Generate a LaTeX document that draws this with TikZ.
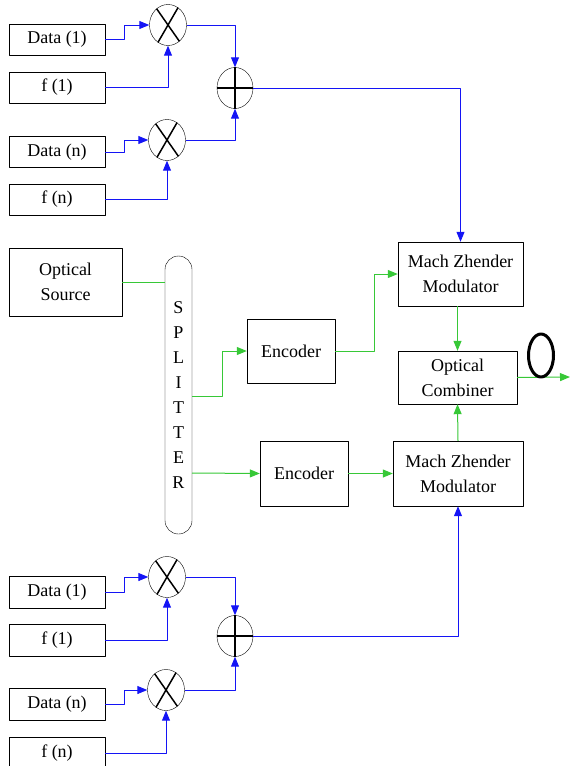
\documentclass[tikz,border=0pt]{standalone}
\usepackage{fontspec}
\setmainfont{Liberation Serif}
\usetikzlibrary{arrows.meta,shapes.geometric}
\definecolor{sigblue}{RGB}{20,20,245}
\definecolor{optgreen}{RGB}{55,200,55}
\tikzset{
	box/.style={draw, thin, inner sep=0pt, align=center},
	mixer/.style={draw, thin, ellipse, inner sep=0pt, minimum width=37pt, minimum height=41pt},
	bline/.style={sigblue, line width=1pt},
	gline/.style={optgreen, line width=1pt}
}
\begin{document}
\begin{tikzpicture}[x=1pt, y=-1pt, >={Triangle[length=10pt,width=8pt]}, line join=round, font=\fontsize{18}{25}\selectfont]
	\useasboundingbox (0,0) rectangle (570,766);
	
	% ==========================================
	% 1. Upper data branch
	% ==========================================
	\node[box, minimum width=96pt, minimum height=31pt] (ud1) at (57,39.5) {Data (1)};
	\node[box, minimum width=96pt, minimum height=31pt] (uf1) at (57,87.5) {f (1)};
	\node[box, minimum width=96pt, minimum height=31pt] (udn) at (57,152) {Data (n)};
	\node[box, minimum width=96pt, minimum height=31pt] (ufn) at (57,199.5) {f (n)};
	
	\node[mixer] (umul1) at (168,25) {};
	\node[mixer] (umuln) at (167,140) {};
	\node[mixer, minimum width=36pt] (uadd) at (235,88) {};
	
	% signs inside the circles
	\foreach \m in {umul1, umuln} {
		\draw[line width=1.5pt] (\m.60) -- (\m.240) (\m.125) -- (\m.305);
	}
	\draw[line width=1.5pt] (uadd.west) -- (uadd.east) (uadd.north) -- (uadd.south);
	
	\draw[bline, ->] (ud1.east) -- ++(19,0) |- (umul1.west);
	\draw[bline, ->] (uf1.east) -| (umul1.south);
	\draw[bline, ->] (udn.east) -- ++(19,0) |- (umuln.west);
	\draw[bline, ->] (ufn.east) -| (umuln.south);
	\draw[bline, ->] (umul1.east) -| (uadd.north);
	\draw[bline, ->] (umuln.east) -| (uadd.south);
	
	% ==========================================
	% 2. Optical part
	% ==========================================
	\node[box, minimum width=113pt, minimum height=68pt] (osrc) at (65.5,282) {Optical\\Source};
	\node[box, rounded corners=13.5pt, minimum width=27pt, minimum height=278pt] (split) at (178.5,395) {S\\P\\L\\I\\T\\T\\E\\R};
	\coordinate (s1) at (192,396);
	\coordinate (s2) at (192,473);
	
	\node[box, minimum width=88pt, minimum height=64pt] (enc1) at (291,351) {Encoder};
	\node[box, minimum width=88pt, minimum height=65pt] (enc2) at (304,473.5) {Encoder};
	\node[box, minimum width=125pt, minimum height=64pt] (mzm1) at (460.5,274) {Mach Zhender\\Modulator};
	\node[box, minimum width=130pt, minimum height=65pt] (mzm2) at (458,473.5) {Mach Zhender\\Modulator};
	\node[box, minimum width=119pt, minimum height=53pt] (comb) at (457.5,377.5) {Optical\\Combiner};
	\coordinate (out) at (570,377);
	
	\draw[gline] (osrc.east) -- (split.west |- osrc.east);
	\draw[gline, ->] (s1) -- ++(30,0) |- (enc1.west);
	\draw[gline, ->] (s2) -- (enc2.west);
	\draw[gline, ->] (enc1.east) -- ++(39,0) |- (mzm1.west);
	\draw[gline, ->] (enc2.east) -- (mzm2.west);
	\draw[gline, ->] (mzm1.south -| comb.north) -- (comb.north);
	\draw[gline, ->] (mzm2.north) -- (comb.south);
	\draw[gline, ->] (comb.east) -- (out);
	
	% fibre loop
	\draw[line width=3pt] (541,355.5) ellipse [x radius=12.5, y radius=21.5];
	
	% ==========================================
	% 3. Lower data branch
	% ==========================================
	\node[box, minimum width=96pt, minimum height=32pt] (ld1) at (57,592) {Data (1)};
	\node[box, minimum width=96pt, minimum height=32pt] (lf1) at (57,640.5) {f (1)};
	\node[box, minimum width=96pt, minimum height=32pt] (ldn) at (57,704.5) {Data (n)};
	\node[box, minimum width=96pt, minimum height=32pt] (lfn) at (57,753) {f (n)};
	
	\node[mixer] (lmul1) at (167,577) {};
	\node[mixer] (lmuln) at (166,690) {};
	\node[mixer, minimum width=36pt] (ladd) at (235,636) {};
	
	\foreach \m in {lmul1, lmuln} {
		\draw[line width=1.5pt] (\m.60) -- (\m.240) (\m.125) -- (\m.305);
	}
	\draw[line width=1.5pt] (ladd.west) -- (ladd.east) (ladd.north) -- (ladd.south);
	
	\draw[bline, ->] (ld1.east) -- ++(19,0) |- (lmul1.west);
	\draw[bline, ->] (lf1.east) -| (lmul1.south);
	\draw[bline, ->] (ldn.east) -- ++(19,0) |- (lmuln.west);
	\draw[bline, ->] (lfn.east) -| (lmuln.south);
	\draw[bline, ->] (lmul1.east) -| (ladd.north);
	\draw[bline, ->] (lmuln.east) -| (ladd.south);
	
	% both sums drive the modulators
	\draw[bline, ->] (uadd.east) -| (mzm1.north);
	\draw[bline, ->] (ladd.east) -| (mzm2.south);
\end{tikzpicture}
\end{document}
